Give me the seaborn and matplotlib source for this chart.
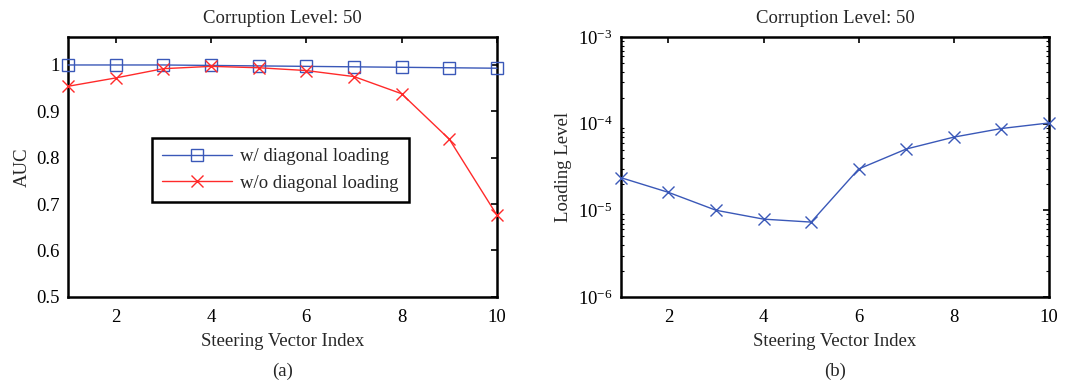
import matplotlib
matplotlib.use("Agg")
import matplotlib.pyplot as plt
import seaborn as sns
import pandas as pd
import numpy as np

index = [1, 2, 3, 4, 5, 6, 7, 8, 9, 10]
auc_with_dl = [1.000, 1.000, 1.000, 0.999, 0.998, 0.997, 0.996, 0.995, 0.994, 0.993]
auc_without_dl = [0.954, 0.972, 0.992, 0.997, 0.994, 0.988, 0.975, 0.938, 0.840, 0.676]
loading_level = [2.38e-5, 1.61e-5, 1.0e-5, 7.9e-6, 7.3e-6, 3.0e-5, 5.1e-5, 7.0e-5, 8.8e-5, 1.02e-4]

sns.set_theme(style="white")
plt.rcParams['font.family'] = ['Liberation Serif', 'DejaVu Serif']
plt.rcParams['mathtext.fontset'] = 'custom'
plt.rcParams['mathtext.rm'] = 'Liberation Serif'
plt.rcParams['mathtext.it'] = 'Liberation Serif:italic'

BLUE = '#3a58b8'
RED = '#ff2a2a'
FS = 13.5

fig = plt.figure(figsize=(10.78, 3.87), dpi=100)
ax1 = fig.add_axes([0.063, 0.233, 0.398, 0.671])
ax2 = fig.add_axes([0.576, 0.233, 0.397, 0.671])

df1 = pd.DataFrame({'x': index, 'with': auc_with_dl, 'without': auc_without_dl})
sns.lineplot(data=df1, x='x', y='with', ax=ax1, color=BLUE, lw=1.0, marker='s',
             markersize=9, markerfacecolor='none', markeredgecolor=BLUE,
             markeredgewidth=1.0, label='w/ diagonal loading', clip_on=False, zorder=5)
sns.lineplot(data=df1, x='x', y='without', ax=ax1, color=RED, lw=1.0, marker='x',
             markersize=8, markeredgecolor=RED, markeredgewidth=1.0,
             label='w/o diagonal loading', clip_on=False, zorder=6)

df2 = pd.DataFrame({'x': index, 'load': loading_level})
sns.lineplot(data=df2, x='x', y='load', ax=ax2, color=BLUE, lw=1.0, marker='x',
             markersize=9, markeredgecolor=BLUE, markeredgewidth=1.0, legend=False,
             clip_on=False, zorder=5)
ax2.set_yscale('log')

ax1.set_xlim(1, 10)
ax1.set_ylim(0.5, 1.06)
ax1.set_xticks([2, 4, 6, 8, 10])
ax1.set_yticks([0.5, 0.6, 0.7, 0.8, 0.9, 1.0])
ax1.set_yticklabels(['0.5', '0.6', '0.7', '0.8', '0.9', '1'])
ax1.minorticks_off()

ax2.set_xlim(1, 10)
ax2.set_ylim(1e-6, 1e-3)
ax2.set_xticks([2, 4, 6, 8, 10])
ax2.set_yticks([1e-6, 1e-5, 1e-4, 1e-3])
ax2.set_yticklabels([r'$10^{-6}$', r'$10^{-5}$', r'$10^{-4}$', r'$10^{-3}$'])
ax2.yaxis.set_minor_locator(matplotlib.ticker.LogLocator(base=10, subs=np.arange(2, 10)))
ax2.yaxis.set_minor_formatter(matplotlib.ticker.NullFormatter())
ax2.xaxis.set_minor_locator(matplotlib.ticker.NullLocator())

for ax, ylab, sub in [(ax1, 'AUC', '(a)'), (ax2, 'Loading Level', '(b)')]:
    ax.set_title('Corruption Level: 50', fontsize=FS, pad=10)
    ax.set_xlabel('Steering Vector Index', fontsize=FS, labelpad=5)
    ax.set_ylabel(ylab, fontsize=FS, labelpad=4)
    ax.tick_params(direction='in', length=4, width=1.2, top=True, right=True,
                   labelsize=FS, pad=6, colors='black')
    ax.tick_params(axis='x', pad=9)
    ax.tick_params(which='minor', direction='in', length=2, width=0.8,
                   left=True, right=True, colors='black')
    for s in ax.spines.values():
        s.set_linewidth(1.8)
        s.set_color('black')
        s.set_zorder(3)
    ax.text(0.5, -0.255, sub, transform=ax.transAxes, ha='center', va='top', fontsize=FS)

leg = ax1.legend(loc='center', bbox_to_anchor=(0.495, 0.488),
                 fontsize=FS, frameon=True, fancybox=False,
                 borderpad=0.55, handlelength=3.7, handletextpad=0.45, labelspacing=0.5)
leg.get_frame().set_edgecolor('black')
leg.get_frame().set_linewidth(1.8)
leg.get_frame().set_alpha(1)

fig.savefig('out.png', dpi=100)
